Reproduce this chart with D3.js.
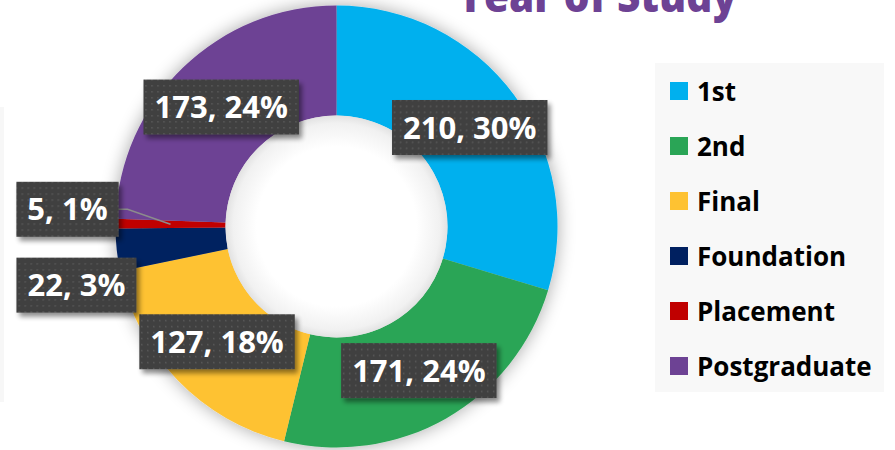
<!DOCTYPE html>
<html>
<head>
<meta charset="utf-8">
<script src="https://cdn.jsdelivr.net/npm/d3@7"></script>
<style>
  body { margin: 0; background: #fff; }
  svg { display: block; font-family: "Open Sans", sans-serif; }
</style>
</head>
<body>
<svg id="chart" width="895" height="450"></svg>
<script>
const categories = ["1st", "2nd", "Final", "Foundation", "Placement", "Postgraduate"];
const counts = [210, 171, 127, 22, 5, 173];
const percents = ["30%", "24%", "18%", "3%", "1%", "24%"];
const colors = ["#00B0EE", "#2AA556", "#FEC232", "#002060", "#C00000", "#6D4294"];
// small slices get their labels pushed out to the left
const labelShift = [[0, 0], [0, 0], [0, 0], [-95, 41], [-103, -15], [0, 0]];

const width = 895, height = 450;
const cx = 336.5, cy = 226.5;
const outerR = 221, innerR = 111;

const svg = d3.select("#chart");
const defs = svg.append("defs");

const glow = defs.append("filter").attr("id", "glow")
  .attr("x", "-20%").attr("y", "-20%").attr("width", "140%").attr("height", "140%");
glow.append("feGaussianBlur").attr("in", "SourceAlpha").attr("stdDeviation", 9).attr("result", "b");
glow.append("feComponentTransfer").attr("in", "b").attr("result", "s")
  .append("feFuncA").attr("type", "linear").attr("slope", 0.35);
const gm = glow.append("feMerge");
gm.append("feMergeNode").attr("in", "s");
gm.append("feMergeNode").attr("in", "SourceGraphic");

const boxShadow = defs.append("filter").attr("id", "boxShadow")
  .attr("x", "-20%").attr("y", "-30%").attr("width", "150%").attr("height", "170%");
boxShadow.append("feGaussianBlur").attr("in", "SourceAlpha").attr("stdDeviation", 2.5).attr("result", "b");
boxShadow.append("feOffset").attr("in", "b").attr("dx", 3).attr("dy", 4).attr("result", "o");
boxShadow.append("feComponentTransfer").attr("in", "o").attr("result", "s")
  .append("feFuncA").attr("type", "linear").attr("slope", 0.45);
const bm = boxShadow.append("feMerge");
bm.append("feMergeNode").attr("in", "s");
bm.append("feMergeNode").attr("in", "SourceGraphic");

const dots = defs.append("pattern").attr("id", "dots")
  .attr("width", 6).attr("height", 6).attr("patternUnits", "userSpaceOnUse");
dots.append("rect").attr("width", 6).attr("height", 6).attr("fill", "#404040");
dots.append("rect").attr("x", 2).attr("y", 2).attr("width", 1.5).attr("height", 1.5).attr("fill", "#5a5a5a");

const holeGrad = defs.append("radialGradient").attr("id", "hole");
holeGrad.append("stop").attr("offset", "0.72").attr("stop-color", "#ffffff");
holeGrad.append("stop").attr("offset", "0.93").attr("stop-color", "#f1f1f1");
holeGrad.append("stop").attr("offset", "1").attr("stop-color", "#e2e2e2");

// faint panel edge on the left
svg.append("rect").attr("x", -10).attr("y", 107).attr("width", 14).attr("height", 295)
  .attr("fill", "#f7f7f7");

// title (cut off at the top, as in the original)
svg.append("text")
  .attr("x", 457).attr("y", 12)
  .attr("textLength", 280).attr("lengthAdjust", "spacingAndGlyphs")
  .attr("fill", "#6D4294").attr("font-weight", 800).attr("font-size", 44)
  .text("Year of Study");

const data = categories.map((c, i) => ({ name: c, value: counts[i], pct: percents[i], i }));

const pie = d3.pie().sort(null).value(d => d.value);
const arcs = pie(data);
const arc = d3.arc().innerRadius(innerR).outerRadius(outerR);
const midArc = d3.arc().innerRadius((innerR + outerR) / 2).outerRadius((innerR + outerR) / 2);

const g = svg.append("g").attr("transform", `translate(${cx},${cy})`);

g.append("g").attr("filter", "url(#glow)")
  .selectAll("path").data(arcs).join("path")
  .attr("d", arc)
  .attr("fill", d => colors[d.data.i]);

g.append("circle").attr("r", innerR).attr("fill", "url(#hole)");

// leader line for Placement
const pl = arcs[4];
const [px, py] = midArc.centroid(pl);
const lx = px + labelShift[4][0], ly = py + labelShift[4][1];
g.append("polyline")
  .attr("points", [[px, py], [lx + 60, ly], [lx + 50, ly]].map(p => p.join(",")).join(" "))
  .attr("fill", "none").attr("stroke", "#8c8c8c").attr("stroke-width", 1.5);

const labels = g.append("g").selectAll("g").data(arcs).join("g")
  .attr("transform", d => {
    const [x, y] = midArc.centroid(d);
    const s = labelShift[d.data.i];
    return `translate(${x + s[0]},${y + s[1]})`;
  });

labels.each(function(d) {
  const lg = d3.select(this);
  const t = lg.append("text")
    .attr("text-anchor", "middle").attr("dy", "0.36em")
    .attr("fill", "#fff").attr("font-weight", 700).attr("font-size", 31)
    .text(`${d.data.value}, ${d.data.pct}`);
  const w = t.node().getComputedTextLength();
  lg.insert("rect", "text")
    .attr("x", -w / 2 - 11).attr("y", -27.5)
    .attr("width", w + 22).attr("height", 55)
    .attr("fill", "url(#dots)")
    .attr("filter", "url(#boxShadow)");
});

// legend
const legend = svg.append("g").attr("transform", "translate(655,63)");
legend.append("rect").attr("width", 229).attr("height", 329).attr("fill", "#f8f8f8");
const items = legend.selectAll("g").data(data).join("g")
  .attr("transform", (d, i) => `translate(15,${19 + i * 55})`);
items.append("rect").attr("width", 18).attr("height", 18).attr("fill", d => colors[d.i]);
items.append("text")
  .attr("x", 27).attr("y", 9).attr("dy", "0.37em")
  .attr("font-size", 26).attr("font-weight", 700).attr("fill", "#000")
  .text(d => d.name);
</script>
</body>
</html>
